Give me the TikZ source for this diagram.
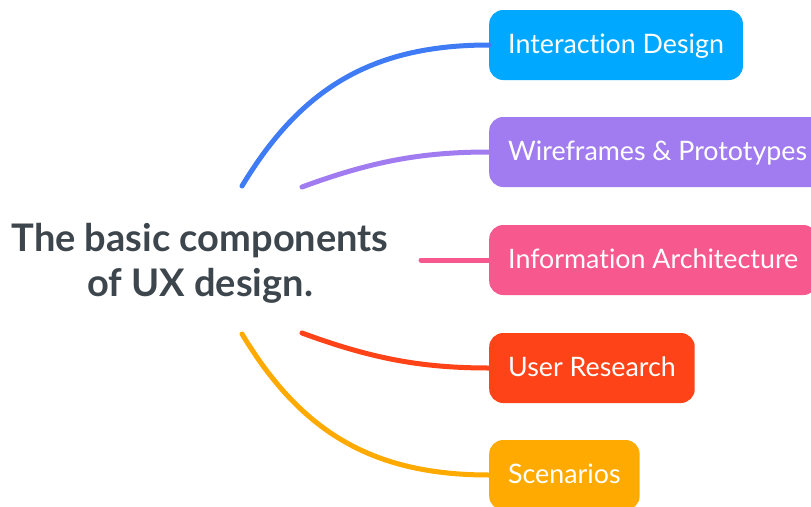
\documentclass[tikz,border=0pt]{standalone}
\usepackage{fontspec}
\setmainfont{Lato}[Ligatures=NoCommon]
\usetikzlibrary{positioning}
\definecolor{inkgray}{HTML}{3D464D}
\definecolor{ixblue}{HTML}{00A9FF}
\definecolor{lineblue}{HTML}{3F7BF5}
\definecolor{wfpurple}{HTML}{A17CF0}
\definecolor{iapink}{HTML}{F7588D}
\definecolor{urred}{HTML}{FF4318}
\definecolor{scamber}{HTML}{FFAA00}

\begin{document}
\begin{tikzpicture}[x=1pt, y=-1pt, line cap=round,
    topic/.style={rounded corners=14pt, text=white, anchor=west,
      font=\fontsize{26.8}{32}\selectfont, minimum height=70pt, inner xsep=19pt,
      text height=17pt, text depth=0pt},
    branch/.style={line width=5pt}]
  \useasboundingbox (0,0) rectangle (811,506);
  \clip (0,0) rectangle (811,506);

  % --- central topic ---
  \node[font=\bfseries\fontsize{38}{45}\selectfont, text=inkgray, align=center]
       (title) at (200,263) {The basic components\\of UX design.};

  % --- subtopics ---
  \node[topic, fill=ixblue]   (ixd) at (489,45)  {Interaction Design};
  \node[topic, fill=wfpurple] (wfp) at (489,152) {Wireframes \& Prototypes};
  \node[topic, fill=iapink]   (ia)  at (489,260) {Information Architecture};
  \node[topic, fill=urred]    (ur)  at (489,368) {User Research};
  \node[topic, fill=scamber]  (sc)  at (489,475) {Scenarios};

  % --- branch ends next to the title ---
  \coordinate (b-ixd) at (242,186);
  \coordinate (b-wfp) at (302,187);
  \coordinate (b-ia)  at (421,260);
  \coordinate (b-ur)  at (302,333);
  \coordinate (b-sc)  at (242,334);

  % --- branches ---
  \draw[branch, lineblue] (b-ixd) .. controls (300,90) and (370,45) .. (ixd.west);
  \draw[branch, wfpurple] (b-wfp) .. controls (370,162) and (420,152) .. (wfp.west);
  \draw[branch, iapink]   (b-ia) -- (ia.west);
  \draw[branch, urred]    (b-ur) .. controls (370,358) and (420,368) .. (ur.west);
  \draw[branch, scamber]  (b-sc) .. controls (300,430) and (370,475) .. (sc.west);
\end{tikzpicture}
\end{document}
